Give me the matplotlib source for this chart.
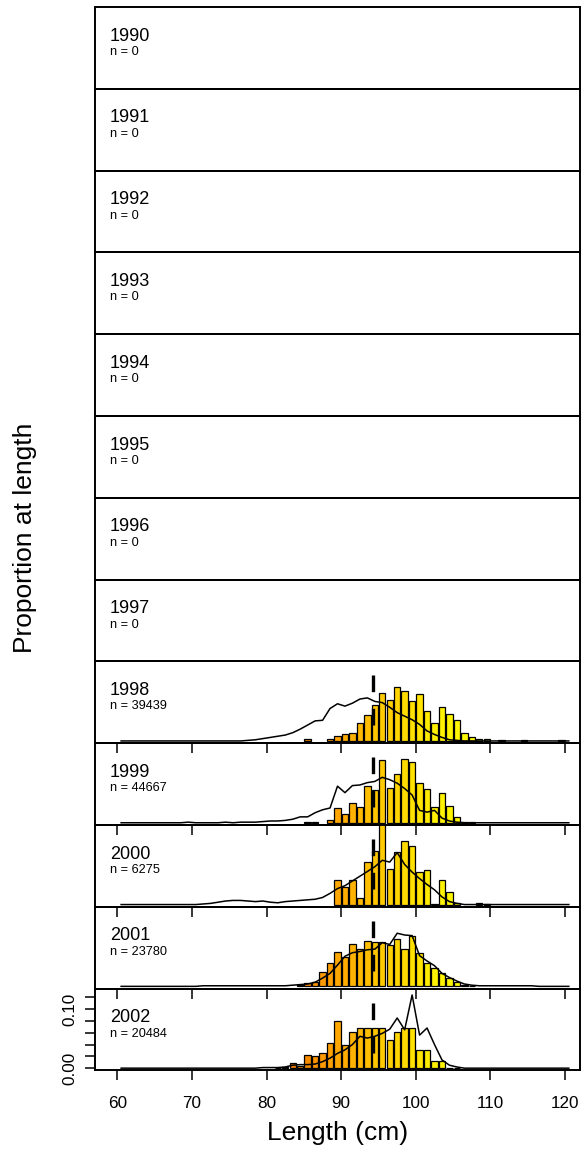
import numpy as np
import matplotlib.pyplot as plt
from matplotlib.colors import LinearSegmentedColormap, Normalize

plt.rcParams['font.family'] = ['Liberation Sans', 'DejaVu Sans']
plt.rcParams['lines.scale_dashes'] = False

years = [1990, 1991, 1992, 1993, 1994, 1995, 1996, 1997,
         1998, 1999, 2000, 2001, 2002]
sample_n = [0, 0, 0, 0, 0, 0, 0, 0, 39439, 44667, 6275, 23780, 20484]

# length bins (lower edge, cm) used by the expected curves
bins = np.arange(60, 121)
cutoff_len = 94.3

# observed proportions, only the bins that have fish
obs_len = {
    1998: [85, 88, 89, 90, 91, 92, 93, 94, 95, 96, 97, 98, 99, 100, 101, 102,
           103, 104, 105, 106, 107, 108, 109, 111, 114, 119],
    1999: [85, 86, 88, 89, 90, 91, 92, 93, 94, 95, 96, 97, 98, 99, 100, 101,
           102, 103, 104, 105, 106, 107],
    2000: [89, 90, 91, 92, 93, 94, 95, 96, 97, 98, 99, 100, 101, 102, 103,
           104, 105, 108, 109],
    2001: [84, 85, 86, 87, 88, 89, 90, 91, 92, 93, 94, 95, 96, 97, 98, 99,
           100, 101, 102, 103, 104, 105, 106, 107],
    2002: [81, 82, 83, 84, 85, 86, 87, 88, 89, 90, 91, 92, 93, 94, 95, 96,
           97, 98, 99, 100, 101, 102, 103, 104, 105],
}
obs_1998 = [0.003, 0.004, 0.008, 0.012, 0.014, 0.031, 0.044, 0.061, 0.081,
            0.069, 0.092, 0.084, 0.068, 0.080, 0.051, 0.031, 0.057, 0.046,
            0.036, 0.013, 0.007, 0.004, 0.004, 0.002, 0.001, 0.001]
obs_1999 = [0.002, 0.002, 0.004, 0.025, 0.015, 0.033, 0.027, 0.062, 0.056,
            0.106, 0.059, 0.082, 0.108, 0.103, 0.068, 0.058, 0.027, 0.050,
            0.028, 0.010, 0.002, 0.001]
obs_2000 = [0.041, 0.030, 0.041, 0.011, 0.072, 0.090, 0.150, 0.061, 0.089,
            0.108, 0.099, 0.055, 0.058, 0.001, 0.041, 0.021, 0.003, 0.003,
            0.001]
obs_2001 = [0.002, 0.005, 0.008, 0.025, 0.039, 0.058, 0.050, 0.071, 0.064,
            0.077, 0.075, 0.075, 0.070, 0.081, 0.064, 0.086, 0.056, 0.039,
            0.031, 0.022, 0.014, 0.008, 0.003, 0.001]
obs_2002 = [0.001, 0.002, 0.008, 0.004, 0.022, 0.020, 0.025, 0.043, 0.080,
            0.040, 0.062, 0.068, 0.068, 0.068, 0.068, 0.048, 0.062, 0.068,
            0.068, 0.030, 0.030, 0.012, 0.012, 0.001, 0.001]

# expected proportions for every bin 60..120
exp_1998 = [0.0] * 16 + [
    0.000, 0.001, 0.002, 0.004, 0.006, 0.008, 0.010, 0.014, 0.020, 0.027,
    0.034, 0.035, 0.055, 0.063, 0.059, 0.064, 0.071, 0.073, 0.067, 0.065,
    0.057, 0.048, 0.042, 0.036, 0.028, 0.017, 0.011, 0.006, 0.002, 0.001,
] + [0.0] * 15
exp_1999 = [0.0] * 9 + [
    0.001, 0.000, 0.000, 0.000, 0.000, 0.001, 0.000, 0.001, 0.001, 0.001,
    0.002, 0.003, 0.003, 0.004, 0.006, 0.010, 0.010, 0.017, 0.022, 0.025,
    0.062, 0.051, 0.063, 0.064, 0.068, 0.070, 0.077, 0.073, 0.067, 0.058,
    0.047, 0.021, 0.018, 0.021, 0.008, 0.003, 0.001,
] + [0.0] * 15
exp_2000 = [0.0] * 10 + [
    0.000, 0.001, 0.002, 0.004, 0.006, 0.007, 0.007, 0.006, 0.005, 0.006,
    0.004, 0.003, 0.005, 0.006, 0.007, 0.008, 0.009, 0.012, 0.019, 0.027,
    0.032, 0.040, 0.048, 0.056, 0.064, 0.075, 0.072, 0.088, 0.068, 0.055,
    0.044, 0.034, 0.025, 0.013, 0.005, 0.002,
] + [0.0] * 15
exp_2001 = [0.0] * 11 + [
    0.001, 0.001, 0.001, 0.001, 0.001, 0.001, 0.001, 0.001, 0.001, 0.001,
    0.001, 0.001, 0.002, 0.003, 0.004, 0.007, 0.014, 0.022, 0.036, 0.051,
    0.057, 0.059, 0.062, 0.063, 0.074, 0.071, 0.090, 0.087, 0.086, 0.052,
    0.043, 0.035, 0.022, 0.015, 0.009, 0.004, 0.002, 0.001, 0.001, 0.001,
    0.001, 0.001, 0.001, 0.001, 0.001,
] + [0.0] * 5
exp_2002 = [0.0] * 19 + [
    0.001, 0.001, 0.001, 0.002, 0.005, 0.006, 0.006, 0.007, 0.011, 0.017,
    0.025, 0.031, 0.040, 0.054, 0.051, 0.054, 0.059, 0.066, 0.085, 0.065,
    0.124, 0.056, 0.068, 0.040, 0.014, 0.005, 0.002,
] + [0.0] * 15

observed = {1998: obs_1998, 1999: obs_1999, 2000: obs_2000,
            2001: obs_2001, 2002: obs_2002}
expected = {1998: exp_1998, 1999: exp_1999, 2000: exp_2000,
            2001: exp_2001, 2002: exp_2002}

bar_cmap = LinearSegmentedColormap.from_list(
    'len', ['#E06400', '#FF9900', '#FFC800', '#FFF000', '#FFFF00'])
bar_norm = Normalize(80, 110)

fig = plt.figure(figsize=(5.82, 11.52), dpi=100)
W, H = 582.0, 1152.0
left, right = 95, 580
top, ph = 7, 81.8

axes = []
for i, (yr, n) in enumerate(zip(years, sample_n)):
    bottom = top + (i + 1) * ph
    ax = fig.add_axes([left / W, 1 - bottom / H, (right - left) / W, ph / H])
    ax.patch.set_visible(False)
    ax.set_xlim(57.0, 122.0)
    ax.set_ylim(-0.0038, 0.1348)
    for sp in ax.spines.values():
        sp.set_linewidth(1.4)
    ax.set_xticks([])
    ax.set_yticks([])

    ax.text(0.031, 0.645, str(yr), transform=ax.transAxes, fontsize=13,
            va='center', ha='left')
    ax.text(0.031, 0.45, f'n = {n}', transform=ax.transAxes, fontsize=9.2,
            va='center', ha='left')

    if yr in observed:
        lens = np.array(obs_len[yr])
        ax.bar(lens + 0.5, observed[yr], width=0.86,
               color=bar_cmap(bar_norm(lens + 0.5)),
               edgecolor='black', linewidth=0.9, zorder=2)
        ax.plot(bins + 0.5, expected[yr], color='black', lw=1.1, zorder=3)
        ax.plot([cutoff_len, cutoff_len], [0.111, 0.0], color='black',
                lw=2.4, dashes=(12, 12), zorder=4)
        ax.set_xticks(np.arange(60, 121, 10))
        ax.tick_params(axis='x', direction='out', length=7.2, width=1.1,
                       labelbottom=False)
    axes.append(ax)

last = axes[-1]
last.tick_params(axis='x', labelbottom=True, labelsize=12.3, pad=11)
last.set_yticks(np.arange(0, 0.13, 0.02))
last.set_yticklabels(['0.00', '', '', '', '', '0.10', ''], rotation=90,
                     va='center')
last.tick_params(axis='y', direction='out', length=7.2, width=1.1,
                 labelsize=12.3, pad=5.5)

fig.text(25 / W, 1 - 538 / H, 'Proportion at length', rotation=90,
         ha='center', va='center', fontsize=19)
fig.text(337.5 / W, 1 - 1133 / H, 'Length (cm)', ha='center', va='center',
         fontsize=19)

fig.savefig('out.png', dpi=100)
